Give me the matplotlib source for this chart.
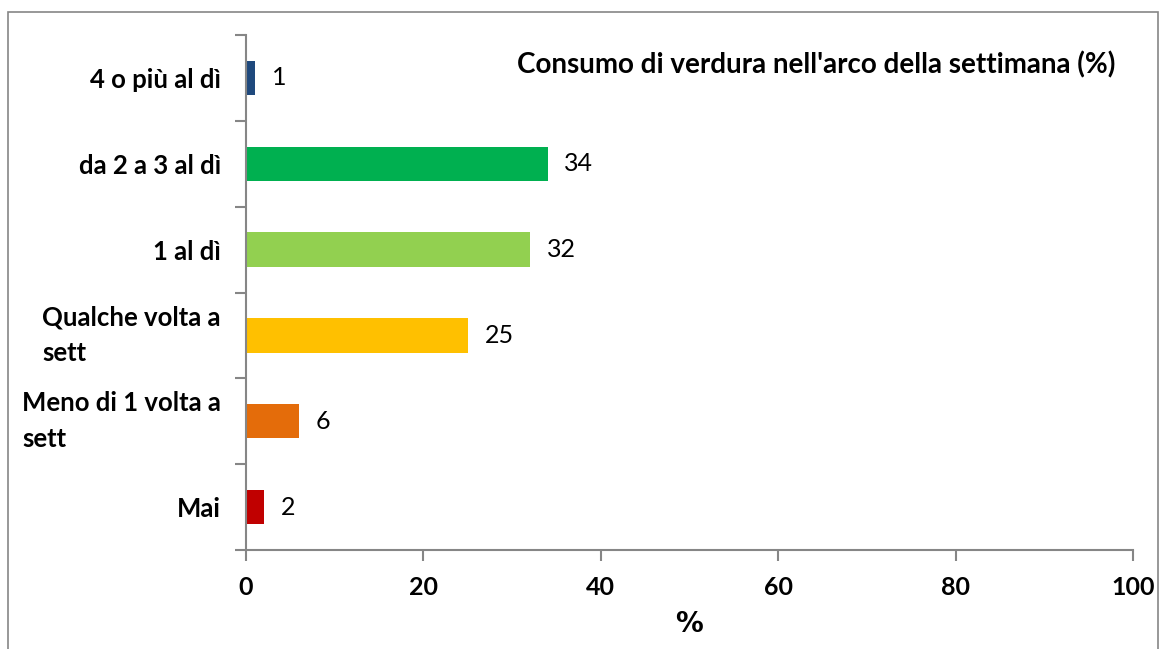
import matplotlib.pyplot as plt
from matplotlib.patches import Rectangle

categories = ["Mai", "Meno di 1 volta a\nsett", "Qualche volta a\nsett",
              "1 al dì", "da 2 a 3 al dì", "4 o più al dì"]
values = [2, 6, 25, 32, 34, 1]
colors = ["#C00000", "#E46C0A", "#FFC000", "#92D050", "#00B050", "#1F497D"]
xticks = [0, 20, 40, 60, 80, 100]

plt.rcParams['font.family'] = ['Lato', 'DejaVu Sans']

fig = plt.figure(figsize=(11.61, 6.49), dpi=100)
ax = fig.add_axes([246 / 1161, 1 - 550 / 649, (1133 - 246) / 1161, (550 - 35) / 649])

# outer border of the chart area
fig.patches.append(Rectangle((8 / 1161, -0.05), (1158 - 8) / 1161, 1.05 - 12 / 649,
                             transform=fig.transFigure, fill=False,
                             edgecolor="#868686", linewidth=1.2))

pos = range(len(categories))
ax.barh(pos, values, height=0.4, color=colors)

for i, v in enumerate(values):
    ax.annotate(str(v), (v, i), xytext=(12, 0), textcoords="offset points",
                va="center", ha="left", fontsize=18)

ax.set_xlim(0, 100)
ax.set_ylim(-0.5, len(categories) - 0.5)
ax.set_xticks(xticks)
ax.set_xticklabels([str(t) for t in xticks], fontsize=18, fontweight="bold")

# ticks at category boundaries, labels at centres
ax.set_yticks([i - 0.5 for i in range(len(categories) + 1)])
ax.set_yticklabels([])
ax.set_yticks(list(pos), minor=True)
ax.set_yticklabels(categories, minor=True, fontsize=18.5, fontweight="bold",
                   multialignment="left", linespacing=1.6)
for lbl in ax.get_yticklabels(minor=True):
    if "\n" in lbl.get_text():
        lbl.set_verticalalignment("center")
ax.tick_params(axis="y", which="minor", length=0, pad=18)
ax.tick_params(axis="y", which="major", length=8, width=1.5, color="#868686")
ax.tick_params(axis="x", length=8, width=1.5, color="#868686", pad=11)

for s in ["top", "right"]:
    ax.spines[s].set_visible(False)
for s in ["left", "bottom"]:
    ax.spines[s].set_color("#868686")
    ax.spines[s].set_linewidth(1.5)

ax.set_xlabel("%", fontsize=20, fontweight="bold", family="DejaVu Sans", labelpad=8)

fig.text(1115 / 1161, 1 - 65 / 649, "Consumo di verdura nell'arco della settimana (%)",
         ha="right", va="center", fontsize=20, fontweight="bold")

fig.savefig("out.png", dpi=100)
